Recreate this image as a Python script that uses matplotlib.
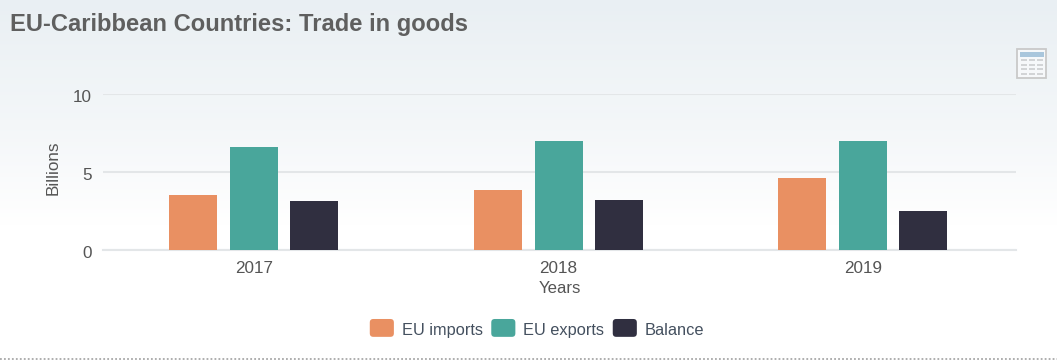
import numpy as np
import matplotlib
matplotlib.use("Agg")
import matplotlib.pyplot as plt
from matplotlib.patches import FancyBboxPatch, Rectangle
from matplotlib.legend_handler import HandlerPatch
from matplotlib.lines import Line2D
from matplotlib.transforms import ScaledTranslation

years = ["2017", "2018", "2019"]
eu_imports = [3.5, 3.8, 4.6]
eu_exports = [6.6, 7.0, 7.0]
balance = [3.1, 3.2, 2.5]
series_names = ["EU imports", "EU exports", "Balance"]
colors = ["#E99062", "#49A69B", "#302F40"]

plt.rcParams['font.family'] = ['Liberation Sans', 'DejaVu Sans']
W, H = 1057, 360
fig = plt.figure(figsize=(W/100, H/100), dpi=100, facecolor="white")

# background gradient
bg = fig.add_axes([0, 0, 1, 1], zorder=0)
bg.axis("off")
stops_y = np.array([0, 60, 130, 190, 225, 360])
stops_v = np.array([0.0, 0.25, 0.5, 0.82, 1.0, 1.0])
g = np.interp(np.arange(H), stops_y, stops_v)
top = np.array([0xE9, 0xEF, 0xF3]) / 255
img = (top[None, :] * (1 - g[:, None]) + g[:, None])[:, None, :]
bg.imshow(img, aspect="auto", extent=[0, W, H, 0])
bg.set_xlim(0, W); bg.set_ylim(H, 0)

# title
bg.text(10, 24.5, "EU-Caribbean Countries: Trade in goods", fontsize=17.1, fontweight="bold",
        color="#5F5F5F", va="center", ha="left")

# table icon
bg.add_patch(Rectangle((1016.5, 48.5), 29, 29, fc="#F6F8FA", ec="#C9C9C9", lw=1.3))
bg.add_patch(Rectangle((1020, 52), 24, 4.5, fc="#A9C6DC", ec="none"))
for ry in (59, 63.5, 68, 72.5):
    for rx in (1021, 1029, 1037):
        bg.add_patch(Rectangle((rx, ry), 6, 2, fc="#D2D4D6", ec="none"))

# bottom dotted rule
bg.add_line(Line2D([0, W], [358.5, 358.5], color="#A8A8A8", lw=1.3, ls=(0, (1, 1.2))))

# plot
ax = fig.add_axes([103/W, 1 - 249.5/H, (1016-103)/W, (249.5-94)/H], zorder=1)
ax.patch.set_alpha(0)
x = np.arange(len(years))
w = 48/304
offs = [-0.2, 0.0, 0.197]
handles = []
for vals, off, c, n in zip([eu_imports, eu_exports, balance], offs, colors, series_names):
    b = ax.bar(x + off, vals, width=w, color=c, label=n, zorder=3)
    handles.append(b[0])
ax.set_xlim(-0.497, 2.503)
ax.set_ylim(0, 10)
ax.set_yticks([0, 5, 10])
ax.set_xticks(x, years)
ax.grid(axis="y", color="#E3E6E8", lw=1.5, zorder=1)
ax.set_axisbelow(True)
for s in ("top", "right", "left"):
    ax.spines[s].set_visible(False)
ax.spines["bottom"].set_color("#E3E6E8")
ax.spines["bottom"].set_linewidth(1.5)
ax.tick_params(axis="both", length=0, labelsize=12.3, labelcolor="#555555")
ax.tick_params(axis="x", pad=8)
ax.tick_params(axis="y", pad=8)
for t in ax.get_yticklabels():
    t.set_transform(t.get_transform() + ScaledTranslation(0, -0.022, fig.dpi_scale_trans))
ax.set_xlabel("Years", fontsize=12.1, color="#555555", labelpad=4)
ax.set_ylabel("Billions", fontsize=12.3, color="#555555")
ax.yaxis.set_label_coords((60.5-103)/(1016-103), (249.5-168)/(249.5-94))


class RoundHandler(HandlerPatch):
    def create_artists(self, legend, orig, xd, yd, width, height, fontsize, trans):
        p = FancyBboxPatch((-xd + 2, -yd + 3.5), width - 4, height - 4,
                           boxstyle="round,pad=2,rounding_size=2.5",
                           fc=orig.get_facecolor(), ec="none", transform=trans)
        return [p]


leg = fig.legend(handles, series_names, loc="center", bbox_to_anchor=(537/W, 1 - 330/H),
                 ncol=3, frameon=False, fontsize=11.8, labelcolor="#44505F",
                 handler_map={h: RoundHandler() for h in handles},
                 handlelength=1.47, handleheight=1.3, handletextpad=0.48, columnspacing=0.52)

fig.savefig("out.png", dpi=100)
